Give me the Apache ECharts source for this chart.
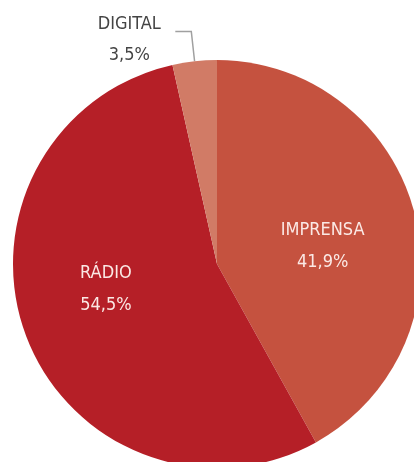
<!DOCTYPE html>
<html>
<head>
<meta charset="utf-8">
<script src="https://cdn.jsdelivr.net/npm/echarts@6/dist/echarts.min.js"></script>
<style>
  html, body { margin: 0; padding: 0; background: #fff; }
  #chart { width: 414px; height: 462px; }
</style>
</head>
<body>
<div id="chart"></div>
<script>
var categories = ['IMPRENSA', 'RÁDIO', 'DIGITAL'];
var values = [41.9, 54.5, 3.5];
var colors = ['#c5523f', '#b51f27', '#d17b66'];

var fontName = "'DejaVu Sans Condensed', 'Liberation Sans Narrow', sans-serif";

// pequenos ajustes dos rotulos internos (px)
var labelShift = {
    'IMPRENSA': [4, 9],
    'RÁDIO': [-13, -12]
};

function pct(v) {
    return v.toFixed(1).replace('.', ',') + '%';
}

var chart = echarts.init(document.getElementById('chart'));

var pieData = categories.map(function (name, i) {
    var item = {
        name: name,
        value: values[i],
        itemStyle: { color: colors[i] }
    };
    if (name === 'DIGITAL') {
        // fatia pequena: rotulo por fora com linha
        item.label = {
            position: 'outside',
            color: '#444',
            distanceToLabelLine: 13,
            padding: [16, 0, 0, 0],
            formatter: function (p) {
                return '{t|' + p.name + '}\n{t|' + pct(p.value) + '}';
            },
            rich: {
                t: { width: 66, align: 'center', fontSize: 18, lineHeight: 31, fontFamily: fontName, color: '#444' }
            }
        };
        item.labelLine = {
            show: true,
            length: 30,
            length2: 16,
            lineStyle: { color: '#a0a0a0', width: 1.5 }
        };
    }
    return item;
});

var option = {
    backgroundColor: '#fff',
    animation: false,
    series: [
        {
            type: 'pie',
            center: [217, 264],
            radius: 204,
            startAngle: 90,
            clockwise: true,
            avoidLabelOverlap: false,
            label: {
                show: true,
                position: 'inside',
                color: '#fbe9e5',
                fontFamily: fontName,
                fontSize: 18,
                lineHeight: 32,
                formatter: function (p) {
                    return p.name + '\n' + pct(p.value);
                }
            },
            labelLine: { show: false },
            labelLayout: function (params) {
                var s = labelShift[categories[params.dataIndex]];
                if (!s) return {};
                return { dx: s[0], dy: s[1] };
            },
            itemStyle: { borderWidth: 0 },
            emphasis: { disabled: true },
            data: pieData
        }
    ]
};

chart.setOption(option);
</script>
</body>
</html>
